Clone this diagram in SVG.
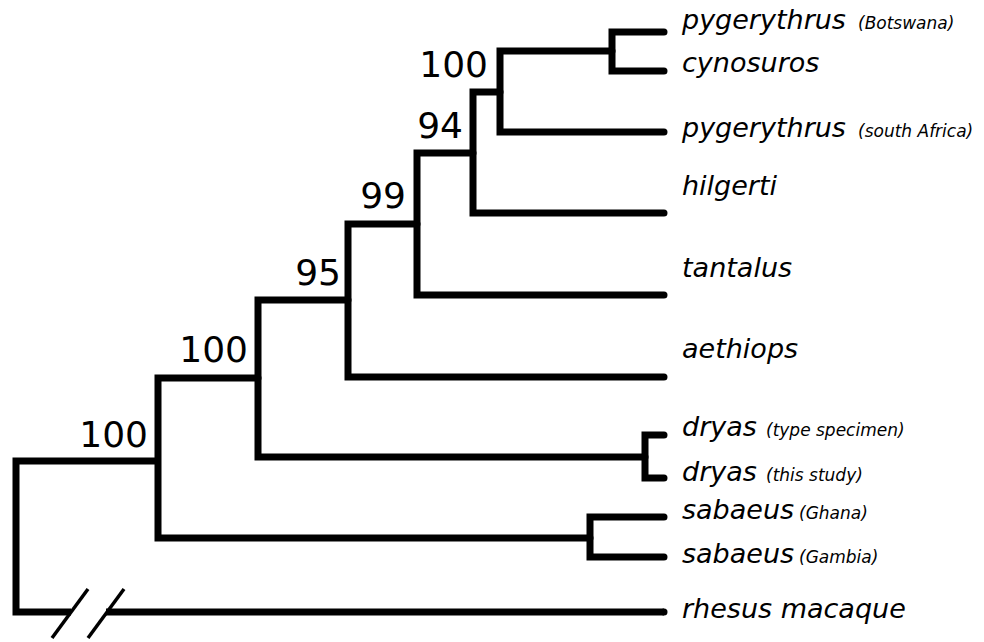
<svg xmlns="http://www.w3.org/2000/svg" width="984" height="642" viewBox="0 0 984 642">
<style>
.br{fill:none;stroke:#000;stroke-width:7;stroke-linejoin:miter;stroke-linecap:round}
.bt{fill:none;stroke:#000;stroke-width:7;stroke-linecap:butt}
.sl{fill:none;stroke:#000;stroke-width:3.5}
.sp{font-family:"DejaVu Sans",Verdana,sans-serif;font-style:italic;font-size:27px;fill:#000}
.sm{font-size:17px}
.bs{font-family:"DejaVu Sans",Verdana,sans-serif;font-size:36px;fill:#000;text-anchor:end}
</style>
<rect width="984" height="642" fill="#fff"/>
<g id="connectors">
<path class="br" d="M664 32 H612 V71 H664"/>
<path class="br" d="M612 51 H500 V132 H664"/>
<path class="br" d="M500 92 H473 V213 H664"/>
<path class="br" d="M473 153 H417 V295 H664"/>
<path class="br" d="M417 224 H348 V377 H664"/>
<path class="br" d="M348 300 H258 V457 H645"/>
<path class="br" d="M664 435 H645 V478 H664"/>
<path class="br" d="M258 378 H158 V538 H590"/>
<path class="br" d="M664 517 H590 V557 H664"/>
<path class="bt" d="M158 461 H16 V612 H71"/>
<path class="bt" d="M106 612 H664"/>
<circle cx="664" cy="612" r="3.5" fill="#000"/>
<line class="sl" x1="52" y1="638" x2="88" y2="589"/>
<line class="sl" x1="88" y1="638" x2="124" y2="589"/>
</g>
<g id="support">
<text class="bs" x="488" y="77">100</text>
<text class="bs" x="463" y="138">94</text>
<text class="bs" x="406" y="208">99</text>
<text class="bs" x="341" y="285">95</text>
<text class="bs" x="248" y="362">100</text>
<text class="bs" x="148" y="447">100</text>
</g>
<g id="tip-botswana"><text class="sp" x="682" y="29">pygerythrus<tspan class="sm" x="858">(Botswana)</tspan></text></g>
<g id="tip-cynosuros"><text class="sp" x="682" y="72">cynosuros</text></g>
<g id="tip-southafrica"><text class="sp" x="682" y="137">pygerythrus<tspan class="sm" x="858">(south Africa)</tspan></text></g>
<g id="tip-hilgerti"><text class="sp" x="682" y="195">hilgerti</text></g>
<g id="tip-tantalus"><text class="sp" x="682" y="277">tantalus</text></g>
<g id="tip-aethiops"><text class="sp" x="682" y="358">aethiops</text></g>
<g id="tip-dryas-type"><text class="sp" x="682" y="436">dryas<tspan class="sm" x="766">(type specimen)</tspan></text></g>
<g id="tip-dryas-study"><text class="sp" x="682" y="481">dryas<tspan class="sm" x="766">(this study)</tspan></text></g>
<g id="tip-sabaeus-ghana"><text class="sp" x="682" y="519">sabaeus<tspan class="sm" x="799">(Ghana)</tspan></text></g>
<g id="tip-sabaeus-gambia"><text class="sp" x="682" y="563">sabaeus<tspan class="sm" x="799">(Gambia)</tspan></text></g>
<g id="tip-rhesus"><text class="sp" x="682" y="618">rhesus macaque</text></g>
</svg>
